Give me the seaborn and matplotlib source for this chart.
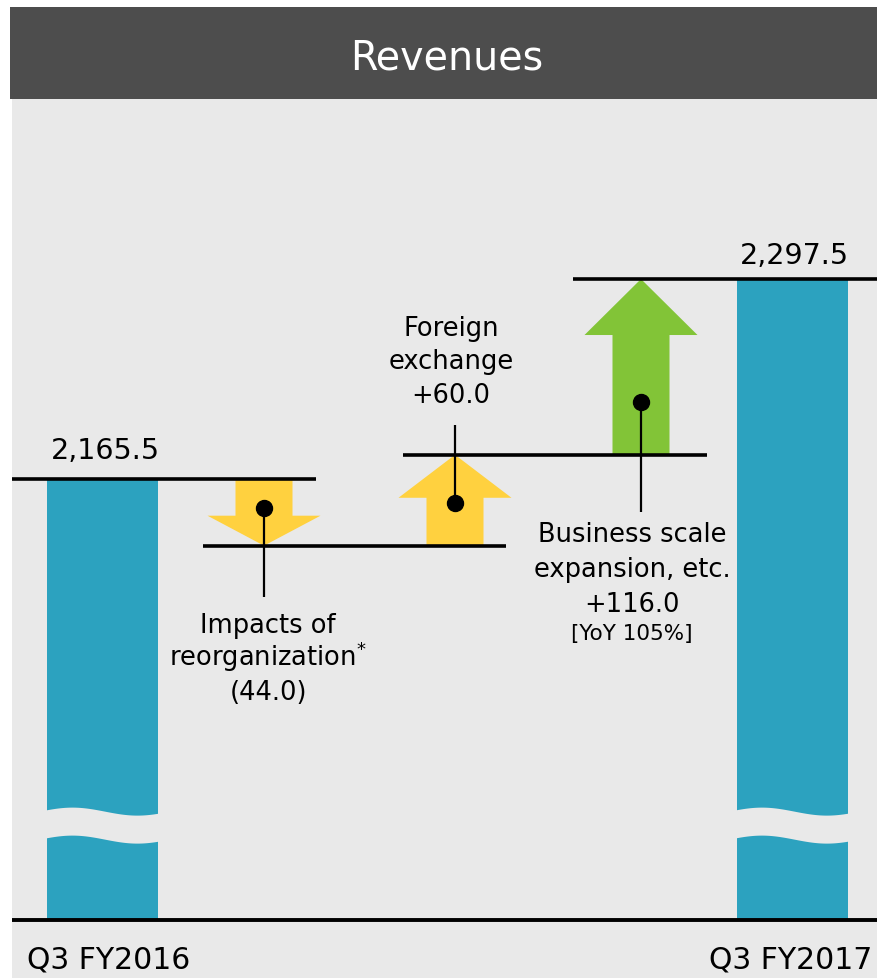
import numpy as np
import pandas as pd
import seaborn as sns
import matplotlib.pyplot as plt
from matplotlib.patches import Rectangle

# --- data ---
title = "Revenues"
period_labels = ["Q3 FY2016", "Q3 FY2017"]
totals = [2165.5, 2297.5]
total_labels = ["2,165.5", "2,297.5"]
step_names = [["Impacts of", "reorganization$^{*}$"],
              ["Foreign", "exchange"],
              ["Business scale", "expansion, etc."]]
step_deltas = [-44.0, 60.0, 116.0]
step_value_labels = ["(44.0)", "+60.0", "+116.0"]
yoy_note = "[YoY 105%]"

# --- layout / style ---
W, H = 877, 979
BG = "#e9e9e9"
HEADER = "#4d4d4d"
BAR_C = "#2ca2bf"
YELLOW = "#ffd13f"
GREEN = "#82c437"
arrow_colors = [YELLOW, YELLOW, GREEN]

bar_x = [102.5, 792.0]
bar_w = 111
step_x = [264.0, 455.0, 641.0]
label_x = [268.0, 451.0, 632.0]
label_side = ["below", "above", "below"]
level_spans = [(12, 316), (203, 506), (403, 707), (573, 877)]
head_len_px = [30, 43, 56]
dot_frac = [0.44, 0.47, 0.30]
stem_gap_px = [51, 30, 57]
line_gap_px = [33.5, 33.5, 35]

Y_LIM = (1836.2, 2416.3)
FLOOR = 1874.4
AX_TOP, AX_BOT = 100, 979


def px(n):
    # pixel distance -> value distance on the main axis
    return n * (Y_LIM[1] - Y_LIM[0]) / (AX_BOT - AX_TOP)


def fig_box(x0, y0, x1, y1):
    return [x0 / W, 1 - y1 / H, (x1 - x0) / W, (y1 - y0) / H]


fig = plt.figure(figsize=(W / 100, H / 100), dpi=100, facecolor="white")

# header band
fig.add_artist(Rectangle((10 / W, 1 - 100 / H), 1 - 10 / W, 92 / H,
                         transform=fig.transFigure, color=HEADER, lw=0))
fig.text(447 / W, 1 - 69 / H, title, color="white", fontsize=28.5,
         ha="center", va="baseline")

ax = fig.add_axes(fig_box(12, AX_TOP, W, AX_BOT))
ax.set_facecolor(BG)

# totals
df_tot = pd.DataFrame({"x": bar_x, "value": totals})
sns.barplot(data=df_tot, x="x", y="value", native_scale=True,
            width=bar_w / np.diff(bar_x).min(), color=BAR_C, saturation=1,
            errorbar=None, linewidth=0, zorder=1, ax=ax)

ax.set_xlim(12, W)
ax.set_ylim(*Y_LIM)
ax.set_xlabel("")
ax.set_ylabel("")
ax.set_xticks([])
ax.set_yticks([])
for s in ax.spines.values():
    s.set_visible(False)

# hide bars below the baseline
ax.axhspan(Y_LIM[0], FLOOR, color=BG, lw=0, zorder=2)

# wavy axis break on both bars
band_top = FLOOR + px(921 - 812)
band_bot = FLOOR + px(921 - 840)
for bx in bar_x:
    left = bx - bar_w / 2
    xs = np.linspace(left - 1, left + bar_w + 1, 200)
    wave = px(4) * np.cos(2 * np.pi * (xs - left - 25) / 130)
    ax.fill_between(xs, band_bot + wave, band_top + wave, color=BG, lw=0, zorder=2)

ax.hlines(FLOOR, 12, W, color="black", lw=2.8, zorder=5)

# levels
levels = [totals[0]] + list(totals[0] + np.cumsum(step_deltas))
for lv, (x0, x1) in zip(levels, level_spans):
    ax.hlines(lv, x0, x1, color="black", lw=2.6, zorder=5)

# arrows, pins and labels
sw, hw = 28.5, 56.5
for i, (x, d) in enumerate(zip(step_x, step_deltas)):
    start, end = levels[i], levels[i + 1]
    sgn = np.sign(d)
    base = end - sgn * px(head_len_px[i])
    xs = [x - sw, x + sw, x + sw, x + hw, x, x - hw, x - sw]
    ys = [start, start, base, base, end, base, base]
    ax.fill(xs, ys, color=arrow_colors[i], lw=0, zorder=3)

    lines = step_names[i] + [step_value_labels[i]]
    gap = px(line_gap_px[i])
    dot_y = start + (end - start) * dot_frac[i]
    if label_side[i] == "below":
        first = min(start, end) - px(86)
        stem_end = min(start, end) - px(stem_gap_px[i])
        ys_txt = [first - k * gap for k in range(len(lines))]
    else:
        last = max(start, end) + px(53)
        stem_end = max(start, end) + px(stem_gap_px[i])
        ys_txt = [last + (len(lines) - 1 - k) * gap for k in range(len(lines))]

    ax.plot([x, x], [dot_y, stem_end], color="black", lw=1.6, zorder=6,
            solid_capstyle="butt")
    ax.plot([x], [dot_y], "o", color="black", ms=11.5, zorder=7)
    for txt, ty in zip(lines, ys_txt):
        ax.text(label_x[i], ty, txt, ha="center", va="baseline", fontsize=18.5,
                zorder=8)
    if i == len(step_x) - 1:
        ax.text(label_x[i], ys_txt[-1] - px(28.5), yoy_note, ha="center",
                va="baseline", fontsize=15.5, zorder=8)

# total value labels
for bx, lv, lab, off, dx in zip(bar_x, totals, total_labels, [21, 16], [3, 2]):
    ax.text(bx + dx, lv + px(off), lab, ha="center", va="baseline", fontsize=20.5)

# period labels
ax.text(27, FLOOR - px(47), period_labels[0], ha="left", va="baseline", fontsize=21.5)
ax.text(872, FLOOR - px(47), period_labels[1], ha="right", va="baseline", fontsize=21.5)

fig.savefig("out.png", dpi=100, facecolor="white")
